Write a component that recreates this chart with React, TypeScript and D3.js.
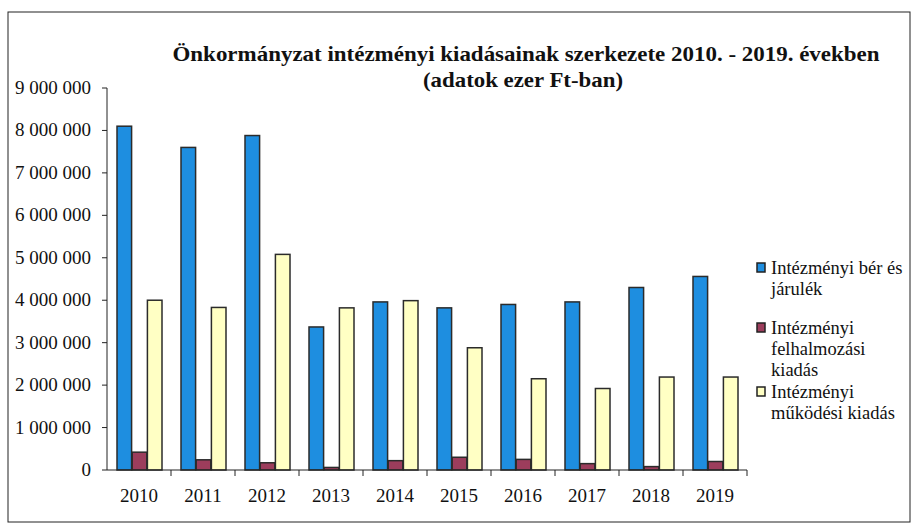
import React from 'react';
import * as d3 from 'd3';

// adatok ezer Ft-ban
const years = ['2010', '2011', '2012', '2013', '2014', '2015', '2016', '2017', '2018', '2019'];
const berJarulek = [8100000, 7600000, 7880000, 3370000, 3960000, 3820000, 3900000, 3960000, 4300000, 4560000];
const felhalmozasi = [420000, 240000, 170000, 60000, 220000, 300000, 250000, 150000, 80000, 200000];
const mukodesi = [4000000, 3830000, 5080000, 3820000, 3990000, 2880000, 2150000, 1920000, 2190000, 2190000];
const yTicks = [0, 1000000, 2000000, 3000000, 4000000, 5000000, 6000000, 7000000, 8000000, 9000000];

const seriesNames = ['ber', 'felh', 'muk'];
const seriesColors = ['#1e8ee0', '#9c3d5c', '#ffffc4'];
const legendLines = [
  ['Intézményi bér és', 'járulék'],
  ['Intézményi', 'felhalmozási', 'kiadás'],
  ['Intézményi', 'működési kiadás'],
];

const serif = { fontFamily: "'Liberation Serif', 'DejaVu Serif', serif" };

const App = () => {
  const margin = { left: 107, right: 747, top: 88, bottom: 470 };

  const x = d3.scaleBand().domain(years).range([margin.left, margin.right]);
  const inner = d3.scaleBand().domain(seriesNames).range([10, 55]).paddingInner(0.04);
  const y = d3.scaleLinear().domain([0, 9000000]).range([margin.bottom, margin.top]);

  const fmt = (v: number) => d3.format(',')(v).replace(/,/g, ' ');
  const data = [berJarulek, felhalmozasi, mukodesi];

  const legendY = [274, 334, 398];

  return (
    <svg width={913} height={531} style={{ position: 'absolute', left: 0, top: 0, background: '#fff' }}>
      <rect x={8} y={12} width={902} height={510} fill="none" stroke="#222" strokeWidth={1} />

      <text x={526} y={61} textAnchor="middle" style={serif} fontWeight="bold" fontSize={21} fill="#111"
        textLength={707} lengthAdjust="spacingAndGlyphs">
        Önkormányzat intézményi kiadásainak szerkezete 2010. - 2019. években
      </text>
      <text x={523} y={87} textAnchor="middle" style={serif} fontWeight="bold" fontSize={21} fill="#111"
        textLength={200} lengthAdjust="spacingAndGlyphs">
        (adatok ezer Ft-ban)
      </text>

      {/* y axis */}
      <line x1={margin.left} x2={margin.left} y1={y(9000000)} y2={y(0)} stroke="#222" />
      {yTicks.map((t) => (
        <g key={t}>
          <line x1={margin.left - 5} x2={margin.left} y1={y(t)} y2={y(t)} stroke="#222" />
          <text x={91} y={y(t) + 6} textAnchor="end" style={serif} fontSize={19} fill="#111">
            {fmt(t)}
          </text>
        </g>
      ))}

      {/* bars */}
      {years.map((yr, i) => (
        <g key={yr} transform={`translate(${x(yr)},0)`}>
          {seriesNames.map((s, j) => (
            <rect
              key={s}
              x={inner(s)}
              y={y(data[j][i])}
              width={inner.bandwidth()}
              height={y(0) - y(data[j][i])}
              fill={seriesColors[j]}
              stroke="#2b2b2b"
              strokeWidth={1.5}
            />
          ))}
        </g>
      ))}

      {/* x axis */}
      <line x1={margin.left} x2={margin.right} y1={y(0)} y2={y(0)} stroke="#222" />
      {years.map((yr) => (
        <g key={yr}>
          <line x1={x(yr)! + x.bandwidth()} x2={x(yr)! + x.bandwidth()} y1={y(0)} y2={y(0) + 6} stroke="#222" />
          <text x={x(yr)! + x.bandwidth() / 2} y={502} textAnchor="middle" style={serif} fontSize={19} fill="#111">
            {yr}
          </text>
        </g>
      ))}

      {/* legend */}
      {legendLines.map((lines, k) => (
        <g key={k}>
          <rect x={757} y={legendY[k] - 11} width={8} height={9} fill={seriesColors[k]} stroke="#222" strokeWidth={1.5} />
          {lines.map((l, m) => (
            <text key={m} x={771} y={legendY[k] + m * 21} style={serif} fontSize={18.5} fill="#111">
              {l}
            </text>
          ))}
        </g>
      ))}
    </svg>
  );
};

export default App;
